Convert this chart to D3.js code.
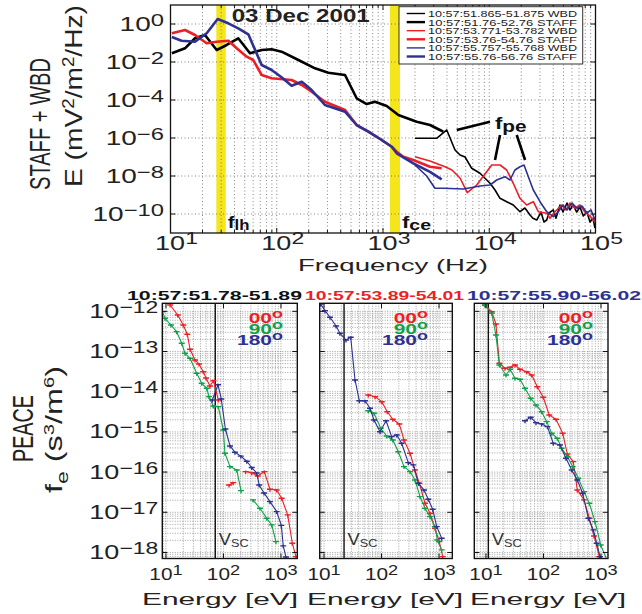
<!DOCTYPE html>
<html><head><meta charset="utf-8">
<script src="https://cdn.jsdelivr.net/npm/d3@7/dist/d3.min.js"></script>
<style>
html,body{margin:0;padding:0;background:#fff;}
svg{display:block;font-family:"Liberation Sans",Arial,Helvetica,sans-serif;}
</style></head><body>
<svg id="chart" width="642" height="614"></svg>
<script>
// ================= TOP PANEL DATA (Frequency Hz, E mV^2/m^2/Hz) =================
const staffBlackF = [10.3,13.7,17.0,21.1,27.2,33.8,43.4,56.0,72.1,89.5,111,160,229,306,439,565,703,841,1084,1394,2074,2768,3436,3693];
const staffBlackE = [0.0287,0.0526,0.177,0.264,0.0428,0.0785,0.177,0.0287,0.0428,0.0466,0.0349,0.0127,0.00466,0.00274,0.00207,1.23e-4,6.15e-5,8.14e-5,4.83e-5,1.63e-5,7.21e-6,4.83e-6,2.64e-6,2.15e-6];
const wbdBlackF = [2000,3199,3981,4764,5309,5916,6839,8185,10170,11330,12630,14590,16830,19450,21680,24190,25760,27970,30690,32730,34750,36490,40090,42450,46330,49430,53950,57540,61400,66530,71450,76730,83150,88760,94680,98900];
const wbdBlackE = [9.64e-7,9.64e-7,2.64e-6,2.33e-7,1.27e-7,1.0e-7,2.54e-8,1.39e-8,4.13e-9,1.83e-9,6.70e-10,4.44e-10,2.98e-10,1.32e-10,2.07e-10,8.86e-11,5.94e-11,4.83e-11,1.27e-10,3.79e-11,4.83e-11,1.13e-10,1.63e-10,5.94e-11,2.98e-10,1.27e-10,3.79e-10,1.63e-10,2.98e-10,1.27e-10,2.34e-10,7.8e-11,1.27e-10,3.79e-11,5.94e-11,1.83e-11];
const staffRedF = [10.3,13.7,17.0,21.9,27.2,35.0,42.0,52.1,60.1,72.1,89.5,138,172,213,284,439,565,728,972,1208,1346,1553,1928,2768,3566];
const staffRedE = [0.324,0.483,0.264,0.0964,0.117,0.132,0.0526,0.0190,0.0127,0.00207,0.00139,0.00113,6.16e-4,2.73e-4,8.14e-5,2.98e-5,4.83e-6,2.15e-6,7.85e-7,3.48e-7,1.90e-7,1.04e-7,6.95e-8,3.08e-8,2.54e-8];
const wbdRedF = [2000,2768,3834,4457,5309,6209,7621,9462,10550,12630,14590,16830,19450,22490,25990,28970,34750,37320,41590,48080,52760,57540,64120,71450,79580,88760,98900];
const wbdRedE = [1.04e-7,6.15e-8,3.08e-8,2.07e-8,7.85e-9,1.32e-9,3.36e-9,1.68e-8,3.79e-8,3.79e-8,2.07e-8,4.13e-9,6.70e-10,2.98e-10,4.44e-10,1.32e-10,1.09e-10,5.94e-11,1.32e-10,2.98e-10,1.63e-10,3.79e-10,2.0e-10,2.98e-10,1.27e-10,7.8e-11,3.79e-11];
const staffBlueF = [10.3,12.7,17.0,21.9,27.8,35.0,43.4,54.0,72.1,89.5,111,138,172,213,284,439,565,728,972,1208,1346,1928,2768,3566];
const staffBlueE = [0.207,0.132,0.117,0.324,1.84,1.09,0.594,0.287,0.00695,0.00379,0.00157,5.66e-4,9.19e-4,3.36e-4,5.45e-5,2.42e-5,4.83e-6,2.15e-6,7.85e-7,3.48e-7,1.57e-7,4.66e-8,1.63e-8,6.70e-9];
const wbdBlueF = [2000,2577,3083,3693,5702,8185,10170,11750,14060,15670,17460,19450,21240,23330,25990,30060,34750,40090,44670,49430,53950,60150,66990,74650,83150,90750,98900];
const wbdBlueE = [3.79e-8,1.0e-8,2.25e-9,2.25e-9,2.07e-9,2.98e-9,3.36e-9,6.15e-9,9.19e-9,6.15e-9,2.07e-8,3.08e-8,3.79e-8,9.19e-9,1.83e-9,4.44e-10,1.32e-10,7.21e-11,1.32e-10,2.98e-10,1.63e-10,3.79e-10,2.0e-10,2.64e-10,1.13e-10,1.63e-10,4.83e-11];
const bandLH = [27.0, 33.1];
const bandCE = [1164, 1445];
// f_pe pointer segments: [f1, E1, f2, E2]
const fpePointers = [[4943,2.64e-6,10170,7.21e-6],[12630,1.44e-6,11330,6.95e-8],[18130,1.44e-6,21740,6.95e-8]];
const topXTickExp = [1,2,3,4,5];
const topYTickExp = [0,-2,-4,-6,-8,-10];
const legendLabels = ["10:57:51.865-51.875 WBD","10:57:51.76-52.76 STAFF","10:57:53.771-53.782 WBD","10:57:53.76-54.76 STAFF","10:57:55.757-55.768 WBD","10:57:55.76-56.76 STAFF"];
const topTitle = "03 Dec 2001";

// ================= BOTTOM PANELS DATA (Energy eV, f_e s^3/m^6; null = gap) =================
const p1RedE = [11.8,16.0,20.0,23.5,26.2,32.0,37.5,44.6,49.7,58.3,67.0,81.3,100,125,148,190,243,310,394,513,644,842,1028,1309,1574,1824];
const p1RedF = [1.44e-12,8.1e-13,4.57e-13,2.69e-13,1.14e-13,6.17e-14,4.90e-14,3.15e-14,2.2e-14,1.39e-14,1.88e-14,6.24e-15,null,4.79e-17,5.46e-17,null,1.03e-16,9.7e-17,8.0e-17,1.03e-16,3.74e-17,3.6e-17,2.23e-17,8.6e-18,1.70e-18,7.9e-19];
const p1GreenE = [8.63,9.6,12.2,15.3,18.8,21.4,26.2,34.2,41.8,51.1,56.0,66.5,81.3,99.3,106,130,170,202,260,326,431,565,690,818];
const p1GreenF = [9.8e-13,6.71e-13,4.57e-13,3.12e-13,1.60e-13,9.04e-14,6.79e-14,2.88e-14,1.62e-14,1.22e-14,7.53e-15,4.42e-15,4.25e-15,1.12e-15,2.94e-16,1.37e-16,1.13e-16,3.45e-17,null,2.03e-17,1.26e-17,7.1e-18,4.85e-18,1.86e-18];
const p1BlueE = [64.0,80.4,91.6,108,130,158,200,254,310,378,418,507,644,842,1014,1096,1221];
const p1BlueF = [6.24e-15,1.49e-14,6.6e-15,1.18e-15,4.47e-16,3.13e-16,2.5e-16,1.86e-16,1.30e-16,9.5e-17,4.79e-17,3.03e-17,1.84e-17,1.04e-17,4.71e-18,1.46e-18,7.7e-19];

const p2RedE = [58.9,77.1,101,126,157,204,246,313,382,454,571,697,851,1011,1159];
const p2RedF = [8.3e-15,7.53e-15,5.65e-15,3.18e-15,2.06e-15,1.57e-15,6.31e-16,2.94e-16,1.13e-16,5.27e-17,1.68e-17,9.46e-18,4.01e-18,1.86e-18,7.89e-19];
const p2GreenE = [58.9,74.0,96.8,123,157,196,246,313,382,467,571,697,851,933,1114];
const p2GreenF = [3.37e-15,2.91e-15,1.23e-15,7.9e-16,6.31e-16,3.22e-16,1.37e-16,1.03e-16,6.37e-17,2.45e-17,1.26e-17,7.78e-18,4.40e-18,2.05e-18,1.16e-18];
const p2BlueE = [8.75,10.4,12.7,16.2,18.9,24.1,29.1,34.6,41.1,51.6,63.1,74.0,94.2,120,150,184,224,292,357,436,548,651,776,912,1114];
const p2BlueF = [1.52e-12,1.04e-12,7.11e-13,4.32e-13,2.84e-13,1.94e-13,2.26e-13,1.96e-14,5.98e-15,5.98e-15,3.87e-15,1.98e-15,1.01e-15,1.90e-15,7.62e-16,8.4e-16,5.21e-16,1.72e-16,1.51e-16,5.27e-17,3.6e-17,2.11e-17,1.19e-17,4.40e-18,2.26e-18];

const p3RedE = [9.6,12.6,14.9,17.1,21.4,26.2,32.0,39.1,51.1,62.4,78.1,99.3,126,165,216,260,330,387,507,627,757,935];
const p3RedF = [1.44e-12,9.8e-13,4.84e-13,5.09e-14,3.83e-14,4.05e-14,4.62e-14,3.61e-14,3.15e-14,2.61e-14,1.33e-14,7.28e-15,2.64e-15,2.06e-15,9.25e-16,2.82e-16,1.82e-16,3.6e-17,2.03e-17,7.1e-18,2.58e-18,7.9e-19];
const p3GreenE = [9.6,12.6,14.9,17.1,22.3,26.2,32.0,39.1,47.7,60.0,74.1,93.1,114,139,174,207,260,322,403,507,627,787,989,1257];
const p3GreenF = [1.44e-12,8.93e-13,2.58e-13,4.62e-14,2.61e-14,3.61e-14,2.16e-14,2.04e-14,1.22e-14,6.87e-15,4.68e-15,3.18e-15,1.80e-15,9.25e-16,6.95e-16,3.92e-16,2.42e-16,1.37e-16,7.03e-17,3.26e-17,1.68e-17,5.85e-18,1.54e-18,6.8e-19];
const p3BlueE = [47.7,60.0,74.1,93.1,117,148,194,246,310,387,481,602,736,843,962];
const p3BlueF = [1.90e-15,2.31e-15,1.70e-15,1.58e-15,1.35e-15,5.21e-16,4.73e-16,2.21e-16,1.13e-16,6.37e-17,2.97e-17,7.1e-18,3.64e-18,1.70e-18,7.9e-19];

const panelTitles = ["10:57:51.78-51.89","10:57:53.89-54.01","10:57:55.90-56.02"];
const vscEnergy = [72, 22.3, 11.0];
const pitchLabels = ["00","90","180"];
const bottomXTickExp = [1,2,3];
const bottomYTickExp = [-12,-13,-14,-15,-16,-17,-18];

// ================= STYLE =================
const RED = "#ec1f26", BLUE = "#2d3192", GREEN = "#11a04a", BLACK = "#000", YELLOW = "#f5e51b";
const svg = d3.select("#chart");
const defs = svg.append("defs");

function txt(parent, x, y, parts, o = {}) {
  const t = parent.append("text")
    .attr("transform", `translate(${x},${y}) scale(${o.sx || 1},${o.sy || 1})${o.rot ? " rotate(-90)" : ""}`)
    .attr("text-anchor", o.anchor || "start")
    .attr("font-size", o.size || 12)
    .attr("font-weight", o.bold ? "bold" : "normal")
    .attr("fill", o.color || "#222");
  if (o.len) t.attr("textLength", o.len).attr("lengthAdjust", "spacingAndGlyphs");
  (typeof parts === "string" ? [[parts]] : parts).forEach(([s, size, dy]) => {
    const sp = t.append("tspan").text(s);
    if (size) sp.attr("font-size", size);
    if (dy) sp.attr("dy", dy);
  });
  return t;
}
function drawSeries(g, X, Y, xs, ys, color, w, markers) {
  const data = X.map((v, i) => [v, Y[i]]);
  const ln = d3.line().defined(d => d[1] != null).x(d => xs(d[0])).y(d => ys(d[1]));
  g.append("path").datum(data).attr("d", ln).attr("fill", "none")
    .attr("stroke", color).attr("stroke-width", w).attr("stroke-linejoin", "round");
  if (markers) {
    const pts = data.filter(d => d[1] != null);
    g.selectAll(null).data(pts).enter().append("path")
      .attr("d", d => `M${xs(d[0]) - 3},${ys(d[1])}h6M${xs(d[0])},${ys(d[1]) - 1}v3.5`)
      .attr("stroke", color).attr("stroke-width", 1.4).attr("fill", "none");
  }
}
function minorTicks(lo, hi) {
  const out = [];
  for (let k = Math.floor(Math.log10(lo)); k <= Math.ceil(Math.log10(hi)); k++)
    for (let m = 1; m < 10; m++) { const v = m * Math.pow(10, k); if (v >= lo * 0.999 && v <= hi * 1.001) out.push(v); }
  return out;
}

// ================= TOP PANEL =================
const TL = 170.5, TR = 595.5, TT = 5, TB = 233;
const x = d3.scaleLog().domain([10, 1e5]).range([TL, TR]);
const y = d3.scaleLog().domain([1e-11, 10]).range([TB, TT]);
defs.append("clipPath").attr("id", "clipTop").append("rect").attr("x", TL).attr("y", TT).attr("width", TR - TL).attr("height", TB - TT);
const topG = svg.append("g");
[bandLH, bandCE].forEach(b => topG.append("rect").attr("x", x(b[0])).attr("y", TT).attr("width", x(b[1]) - x(b[0])).attr("height", TB - TT).attr("fill", YELLOW));
const gridTop = topG.append("g").attr("stroke", "#666").attr("stroke-width", 0.8).attr("stroke-dasharray", "1,2.5");
minorTicks(10, 1e5).forEach(v => gridTop.append("line").attr("x1", x(v)).attr("x2", x(v)).attr("y1", TT).attr("y2", TB));
topYTickExp.forEach(e => gridTop.append("line").attr("x1", TL).attr("x2", TR).attr("y1", y(Math.pow(10, e))).attr("y2", y(Math.pow(10, e))));
const topLines = topG.append("g").attr("clip-path", "url(#clipTop)");
drawSeries(topLines, wbdBlackF, wbdBlackE, x, y, BLACK, 1.6);
drawSeries(topLines, staffBlackF, staffBlackE, x, y, BLACK, 2.6);
drawSeries(topLines, wbdRedF, wbdRedE, x, y, RED, 1.6);
drawSeries(topLines, staffRedF, staffRedE, x, y, RED, 2.6);
drawSeries(topLines, wbdBlueF, wbdBlueE, x, y, BLUE, 1.6);
drawSeries(topLines, staffBlueF, staffBlueE, x, y, BLUE, 2.6);
fpePointers.forEach(p => topG.append("line").attr("x1", x(p[0])).attr("y1", y(p[1])).attr("x2", x(p[2])).attr("y2", y(p[3]))
  .attr("stroke", BLACK).attr("stroke-width", 2.6));
topG.append("rect").attr("x", TL).attr("y", TT).attr("width", TR - TL).attr("height", TB - TT).attr("fill", "none").attr("stroke", "#111").attr("stroke-width", 1.3);
const tkTop = topG.append("g").attr("stroke", "#111").attr("stroke-width", 1);
minorTicks(10, 1e5).forEach(v => {
  const L = Number.isInteger(Math.log10(v)) ? 5 : 3;
  tkTop.append("line").attr("x1", x(v)).attr("x2", x(v)).attr("y1", TB).attr("y2", TB - L);
  tkTop.append("line").attr("x1", x(v)).attr("x2", x(v)).attr("y1", TT).attr("y2", TT + L);
});
topYTickExp.forEach(e => {
  const yy = y(Math.pow(10, e));
  tkTop.append("line").attr("x1", TL).attr("x2", TL + 5).attr("y1", yy).attr("y2", yy);
  tkTop.append("line").attr("x1", TR).attr("x2", TR - 5).attr("y1", yy).attr("y2", yy);
});
topXTickExp.forEach(e => txt(svg, x(Math.pow(10, e)) + 6, 250, [["10"], [String(e), 17, -6]], { size: 20, sx: 1.35, anchor: "middle" }));
topYTickExp.forEach(e => txt(svg, 164, y(Math.pow(10, e)) + 7, [["10"], [e === 0 ? "0" : "\u2212" + (-e), 17, -5]], { size: 20, sx: 1.4, anchor: "end" }));
txt(svg, 393, 271, "Frequency (Hz)", { size: 17, len: 190, anchor: "middle" });
txt(svg, 50, 190, "STAFF + WBD", { size: 20, sx: 1.5, rot: true, len: 132 });
txt(svg, 82, 187, [["E (mV"], ["2", 16, -8], ["/m", null, 8], ["2", 16, -8], ["/Hz)", null, 8]], { size: 24, sx: 1.0, rot: true, len: 182 });
txt(svg, 231.7, 21.7, topTitle, { size: 18.5, bold: true, len: 138 });
txt(svg, x(bandLH[1]) + 2, 228, [["f"], ["lh", 14, 2]], { size: 17, bold: true, sx: 1.2, color: "#111" });
txt(svg, x(bandCE[1]) + 2, 228, [["f"], ["ce", 15, 2]], { size: 17, bold: true, sx: 1.3, color: "#111" });
txt(svg, 495, 129, [["f"], ["pe", 16, 3]], { size: 17, bold: true, sx: 1.3, color: "#111" });
const leg = svg.append("g");
leg.append("rect").attr("x", 399).attr("y", 6.7).attr("width", 183.7).attr("height", 57.3).attr("fill", "#fff").attr("stroke", "#333").attr("stroke-width", 1);
const legColors = [BLACK, BLACK, RED, RED, BLUE, BLUE];
legendLabels.forEach((lab, i) => {
  const yy = 13.5 + i * 8.6;
  leg.append("line").attr("x1", 406.7).attr("x2", 425).attr("y1", yy).attr("y2", yy).attr("stroke", legColors[i]).attr("stroke-width", i % 2 ? 2.4 : 1.4);
  txt(leg, 428, yy + 3.5, lab, { size: 9.6, len: 149, color: "#222" });
});

// ================= BOTTOM PANELS =================
const BT = 303.3, BB = 558.5;
const yb = d3.scaleLog().domain([Math.pow(10, -18.15), Math.pow(10, -11.8)]).range([BB, BT]);
const panelSeries = [
  [[p1RedE, p1RedF, RED], [p1GreenE, p1GreenF, GREEN], [p1BlueE, p1BlueF, BLUE]],
  [[p2RedE, p2RedF, RED], [p2GreenE, p2GreenF, GREEN], [p2BlueE, p2BlueF, BLUE]],
  [[p3RedE, p3RedF, RED], [p3GreenE, p3GreenF, GREEN], [p3BlueE, p3BlueF, BLUE]]
];
const panelLayout = [
  { left: 162.3, right: 297.3, dom: [8.63, 1923], tx: 127, tlen: 175, tcol: "#111", legR: 283, xlab: 220 },
  { left: 319.7, right: 452.3, dom: [8.41, 1702], tx: 305, tlen: 159, tcol: RED, legR: 428, xlab: 385 },
  { left: 474.3, right: 608, dom: [6.27, 1324], tx: 467, tlen: 174, tcol: BLUE, legR: 593, xlab: 548 }
];
const pitchColors = [RED, GREEN, BLUE];
panelLayout.forEach((P, pi) => {
  const xb = d3.scaleLog().domain(P.dom).range([P.left, P.right]);
  const g = svg.append("g");
  const cid = "clipB" + pi;
  defs.append("clipPath").attr("id", cid).append("rect").attr("x", P.left).attr("y", BT).attr("width", P.right - P.left).attr("height", BB - BT);
  const grid = g.append("g").attr("stroke", "#7a7a7a").attr("stroke-width", 0.7).attr("stroke-dasharray", "1,1.5");
  minorTicks(P.dom[0], P.dom[1]).forEach(v => grid.append("line").attr("x1", xb(v)).attr("x2", xb(v)).attr("y1", BT).attr("y2", BB));
  minorTicks(yb.domain()[0], yb.domain()[1]).forEach(v => grid.append("line").attr("x1", P.left).attr("x2", P.right).attr("y1", yb(v)).attr("y2", yb(v)));
  g.append("line").attr("x1", xb(vscEnergy[pi])).attr("x2", xb(vscEnergy[pi])).attr("y1", BT).attr("y2", BB).attr("stroke", "#111").attr("stroke-width", 1.4);
  const lines = g.append("g").attr("clip-path", `url(#${cid})`);
  panelSeries[pi].forEach(s => drawSeries(lines, s[0], s[1], xb, yb, s[2], 1.1, true));
  g.append("rect").attr("x", P.left).attr("y", BT).attr("width", P.right - P.left).attr("height", BB - BT).attr("fill", "none").attr("stroke", "#111").attr("stroke-width", 1.4);
  const tk = g.append("g").attr("stroke", "#111").attr("stroke-width", 1);
  bottomYTickExp.forEach(e => {
    const yy = yb(Math.pow(10, e));
    tk.append("line").attr("x1", P.left).attr("x2", P.left + 5).attr("y1", yy).attr("y2", yy);
    tk.append("line").attr("x1", P.right).attr("x2", P.right - 5).attr("y1", yy).attr("y2", yy);
  });
  bottomXTickExp.forEach(e => {
    const xx = xb(Math.pow(10, e));
    tk.append("line").attr("x1", xx).attr("x2", xx).attr("y1", BB).attr("y2", BB - 5);
    tk.append("line").attr("x1", xx).attr("x2", xx).attr("y1", BT).attr("y2", BT + 5);
    txt(svg, xx, 580, [["10"], [String(e), 14, -5]], { size: 16, sx: 1.3, anchor: "middle" });
  });
  txt(g, xb(vscEnergy[pi]) + 3.5, 545, [["V"], ["SC", 11, 2]], { size: 16, sx: 1.15, color: "#333" });
  // pitch-angle legend: compact glyph boxes (scaled vertically) so rows sit tight as in the reference
  pitchLabels.forEach((lab, i) => txt(g, P.legR, 323 + i * 11, [[lab], ["o", 9, -4]], { size: 10.5, bold: true, sx: 2.0, sy: 1.35, anchor: "end", color: pitchColors[i] }));
  txt(svg, P.tx, 300, panelTitles[pi], { size: 12.5, bold: true, len: P.tlen, color: P.tcol });
  txt(svg, P.xlab, 605, "Energy [eV]", { size: 16, len: 156, anchor: "middle" });
});
bottomYTickExp.forEach(e => txt(svg, 158.3, yb(Math.pow(10, e)) + 6.5, [["10"], ["\u2212" + (-e), 17, -5]], { size: 20, sx: 1.35, anchor: "end" }));
txt(svg, 33.3, 462, "PEACE", { size: 20, sx: 1.5, rot: true, len: 67 });
txt(svg, 62, 493, [["f"], ["e", 17, 6], [" (s", null, -6], ["3", 15, -8], ["/m", null, 8], ["6", 15, -8], [")", null, 8]], { size: 24, sx: 1.0, rot: true, len: 127 });
</script></body></html>
